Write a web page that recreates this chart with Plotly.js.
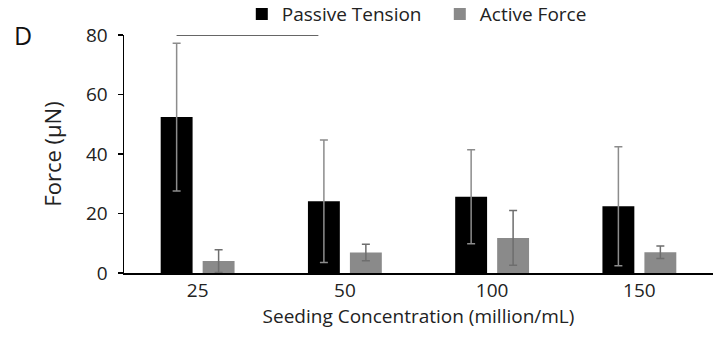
<!DOCTYPE html>
<html>
<head>
<meta charset="utf-8">
<script src="https://cdn.plot.ly/plotly-3.0.1.min.js"></script>
<style>html,body{margin:0;padding:0;background:#fff;}#chart{width:713px;height:338px;}</style>
</head>
<body>
<div id="chart"></div>
<script>
var categories = ["25", "50", "100", "150"];
var passiveTension = [52.4, 24.1, 25.6, 22.4];
var passiveError = [24.8, 20.6, 15.8, 20.0];
var activeForce = [4.0, 6.9, 11.8, 7.0];
var activeError = [3.8, 2.8, 9.2, 2.1];
var yTicks = [0, 20, 40, 60, 80];

var font = "'Open Sans', sans-serif";

var traces = [
  {
    type: "bar", name: "Passive Tension", x: categories, y: passiveTension,
    marker: {color: "#000000"},
    error_y: {type: "data", array: passiveError, visible: true, color: "#8c8c8c", thickness: 1.5, width: 4}
  },
  {
    type: "bar", name: "Active Force", x: categories, y: activeForce,
    marker: {color: "#8a8a8a"},
    error_y: {type: "data", array: activeError, visible: true, color: "#6e6e6e", thickness: 1.5, width: 4}
  }
];

var layout = {
  width: 713, height: 338,
  margin: {l: 124, r: 0, t: 35, b: 65},
  paper_bgcolor: "#ffffff", plot_bgcolor: "#ffffff",
  barmode: "group", bargap: 0.43, bargroupgap: 0.24,
  font: {family: font, color: "#222222", size: 20},
  showlegend: true,
  legend: {
    orientation: "h", x: 0.2, xanchor: "left", yref: "container", y: 0.958, yanchor: "middle",
    font: {size: 19, color: "#222222"}, entrywidth: 153, entrywidthmode: "pixels",
    bgcolor: "rgba(0,0,0,0)", tracegroupgap: 0
  },
  xaxis: {
    type: "category", range: [-0.5, 3.5],
    showline: true, linecolor: "#000000", linewidth: 1.5,
    ticks: "", showgrid: false, zeroline: false,
    tickfont: {size: 19, color: "#222222"}, ticklabelstandoff: 0,
    title: {text: "Seeding Concentration (million/mL)", font: {size: 19, color: "#222222"}, standoff: 5}
  },
  yaxis: {
    range: [0, 80], tickvals: yTicks,
    showline: true, linecolor: "#000000", linewidth: 1.5,
    ticks: "outside", ticklen: 5, tickcolor: "#000000", tickwidth: 1.5,
    showgrid: false, zeroline: false, ticklabelstandoff: 6,
    tickfont: {size: 19, color: "#222222"},
    title: {text: "Force (μN)", font: {size: 22, color: "#222222"}, standoff: 18}
  },
  shapes: [
    {type: "line", xref: "x", yref: "y", x0: -0.143, x1: 0.82, y0: 80, y1: 80,
     line: {color: "#333333", width: 1.5}}
  ],
  annotations: [
    {text: "D", xref: "paper", yref: "paper", x: -0.19, y: 1.0, xanchor: "left", yanchor: "middle",
     showarrow: false, font: {size: 25, color: "#111111"}}
  ]
};

Plotly.newPlot("chart", traces, layout, {displayModeBar: false, staticPlot: true});
</script>
</body>
</html>
